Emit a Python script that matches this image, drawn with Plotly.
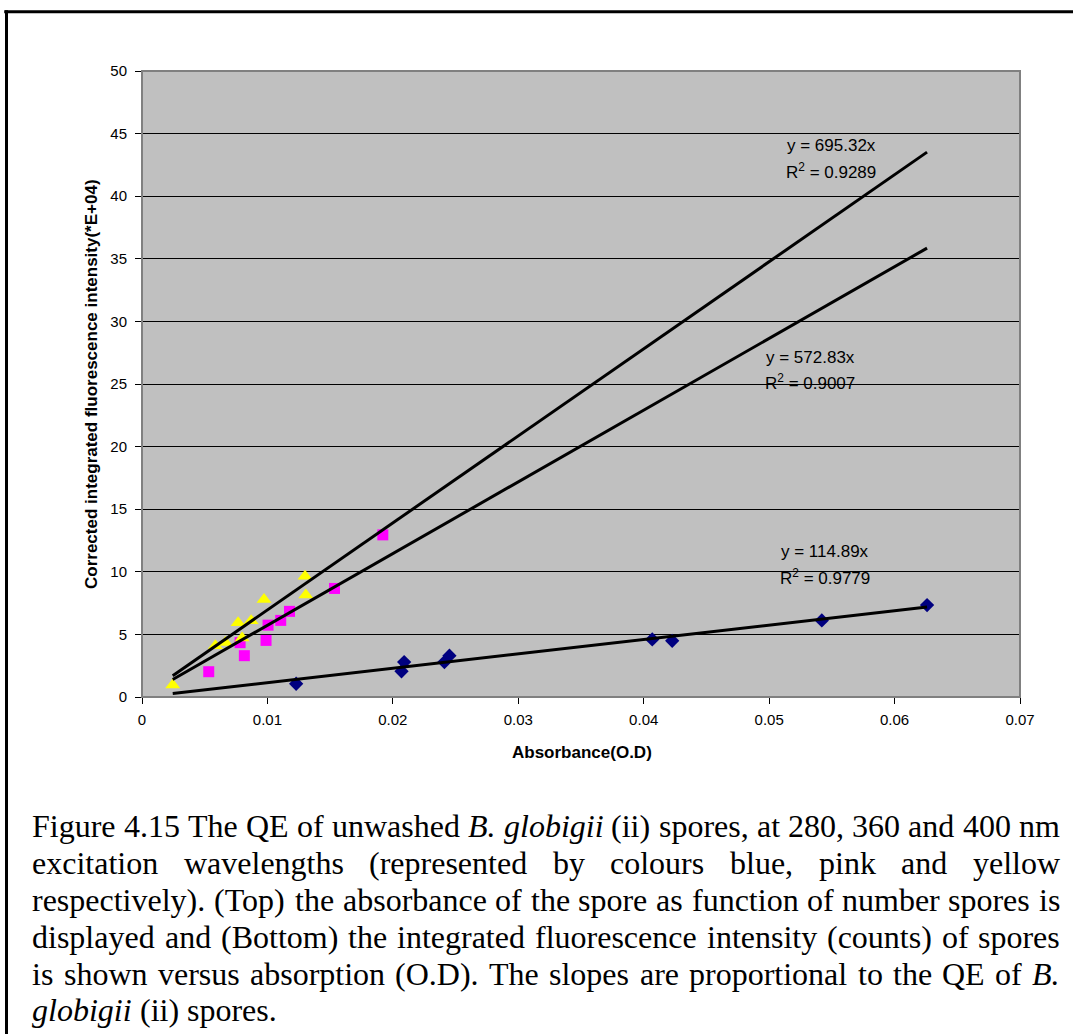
import plotly.graph_objects as go

# ---------------- data ----------------
blue_x = [0.01229, 0.02069, 0.02090, 0.02411, 0.02451, 0.04068, 0.04227, 0.05420, 0.06259]
blue_y = [1.06, 2.05, 2.79, 2.79, 3.30, 4.60, 4.49, 6.12, 7.34]

pink_x = [0.00532, 0.00782, 0.00816, 0.00989, 0.01005, 0.01106, 0.01176, 0.01535, 0.01920]
pink_y = [2.02, 4.34, 3.30, 4.52, 5.74, 6.12, 6.84, 8.67, 12.95]

yellow_x = [0.00245, 0.00585, 0.00665, 0.00766, 0.00870, 0.00798, 0.00973, 0.01300, 0.01306]
yellow_y = [0.96, 4.10, 4.36, 5.93, 6.09, 4.71, 7.79, 9.65, 8.14]

slopes = [114.89, 572.83, 695.32]
r2 = ["0.9779", "0.9007", "0.9289"]

x_title = "Absorbance(O.D)"
y_title = "Corrected integrated fluorescence intensity(*E+04)"

caption_lines = [
    [("Figure", 0), ("4.15", 0), ("The", 0), ("QE", 0), ("of", 0), ("unwashed", 0), ("B.", 1),
     ("globigii", 1), ("(ii)", 0), ("spores,", 0), ("at", 0), ("280,", 0), ("360", 0), ("and", 0),
     ("400", 0), ("nm", 0)],
    [("excitation", 0), ("wavelengths", 0), ("(represented", 0), ("by", 0), ("colours", 0),
     ("blue,", 0), ("pink", 0), ("and", 0), ("yellow", 0)],
    [("respectively).", 0), ("(Top)", 0), ("the", 0), ("absorbance", 0), ("of", 0), ("the", 0),
     ("spore", 0), ("as", 0), ("function", 0), ("of", 0), ("number", 0), ("spores", 0), ("is", 0)],
    [("displayed", 0), ("and", 0), ("(Bottom)", 0), ("the", 0), ("integrated", 0),
     ("fluorescence", 0), ("intensity", 0), ("(counts)", 0), ("of", 0), ("spores", 0)],
    [("is", 0), ("shown", 0), ("versus", 0), ("absorption", 0), ("(O.D).", 0), ("The", 0),
     ("slopes", 0), ("are", 0), ("proportional", 0), ("to", 0), ("the", 0), ("QE", 0), ("of", 0),
     ("B.", 1)],
    [("globigii", 1), ("(ii)", 0), ("spores.", 0)],
]

# ---------------- layout geometry ----------------
W, H = 1073, 1034
ML, MR, MT, MB = 142, 53, 71, 337
PW, PH = W - ML - MR, H - MT - MB


def px(xpix):
    return (xpix - ML) / PW


def py(ypix):
    return (H - MB - ypix) / PH


# Times-Roman / Times-Italic advance widths (per 1000 em)
ROMAN = dict(zip("ABCDEFGHIJKLMNOPQRSTUVWXYZ",
                 [722, 667, 667, 722, 611, 556, 722, 722, 333, 389, 722, 611, 889, 722, 722, 556,
                  722, 667, 556, 611, 722, 722, 944, 722, 722, 611]))
ROMAN.update(dict(zip("abcdefghijklmnopqrstuvwxyz",
                      [444, 500, 444, 500, 444, 333, 500, 500, 278, 278, 500, 278, 778, 500, 500,
                       500, 500, 333, 389, 278, 500, 500, 722, 500, 500, 444])))
ROMAN.update({c: 500 for c in "0123456789"})
ROMAN.update({" ": 250, "(": 333, ")": 333, ",": 250, ".": 250})
ITALIC = dict(ROMAN)
ITALIC.update({"B": 611, "a": 500, "f": 278, ".": 250})


def wwidth(word, italic, fs):
    tab = ITALIC if italic else ROMAN
    return sum(tab.get(c, 500) for c in word) * fs / 1000.0


CAP_FS = 32
CAP_LEFT, CAP_RIGHT = 31, 1059
CAP_BASE0, CAP_STEP = 836, 36.8

fig = go.Figure()

fig.add_trace(go.Scatter(x=blue_x, y=blue_y, mode="markers",
                         marker=dict(symbol="diamond", size=11, color="#000080"), showlegend=False))
fig.add_trace(go.Scatter(x=pink_x, y=pink_y, mode="markers",
                         marker=dict(symbol="square", size=11, color="#FF00FF"), showlegend=False))
fig.add_trace(go.Scatter(x=yellow_x, y=yellow_y, mode="markers",
                         marker=dict(symbol="triangle-up", size=13, color="#FFFF00"), showlegend=False))

all_x = blue_x + pink_x + yellow_x
x0, x1 = min(all_x), max(all_x)
for s in slopes:
    fig.add_trace(go.Scatter(x=[x0, x1], y=[s * x0, s * x1], mode="lines",
                             line=dict(color="black", width=3), showlegend=False, hoverinfo="skip"))

annotations = []
# trendline labels: (slope index, left pixel, eq y pixel, r2 y pixel)
label_pos = [(2, 785, 145, 171), (1, 764, 357, 382), (0, 779, 551, 577)]
for i, lx, ey, ry in label_pos:
    annotations.append(dict(text=f"y = {slopes[i]:.2f}x", x=px(lx), y=py(ey), xref="paper", yref="paper",
                            xanchor="left", yanchor="middle", showarrow=False,
                            font=dict(family="Liberation Sans, Arial", size=17, color="black")))
    annotations.append(dict(text=f"R<sup>2</sup> = {r2[i]}", x=px(lx - 1), y=py(ry), xref="paper", yref="paper",
                            xanchor="left", yanchor="middle", showarrow=False,
                            font=dict(family="Liberation Sans, Arial", size=17, color="black")))

annotations.append(dict(text=f"<b>{x_title}</b>", x=px(582), y=py(752), xref="paper", yref="paper",
                        xanchor="center", yanchor="middle", showarrow=False,
                        font=dict(family="Liberation Sans, Arial", size=17, color="black")))
annotations.append(dict(text=f"<b>{y_title}</b>", x=px(91), y=py(384), xref="paper", yref="paper",
                        xanchor="center", yanchor="middle", showarrow=False, textangle=-90,
                        font=dict(family="Liberation Sans, Arial", size=17, color="black")))

# caption, justified word by word
for li, words in enumerate(caption_lines):
    base = CAP_BASE0 + li * CAP_STEP
    ymid = base - 0.30 * CAP_FS
    widths = [wwidth(w, it, CAP_FS) for w, it in words]
    if li < len(caption_lines) - 1:
        gap = (CAP_RIGHT - CAP_LEFT - sum(widths)) / (len(words) - 1)
    else:
        gap = 250 * CAP_FS / 1000.0
    xcur = CAP_LEFT
    for (w, it), ww in zip(words, widths):
        txt = f"<i>{w}</i>" if it else w
        annotations.append(dict(text=txt, x=px(xcur), y=py(ymid), xref="paper", yref="paper",
                                xanchor="left", yanchor="middle", showarrow=False, borderpad=0,
                                font=dict(family="Liberation Serif, Times New Roman", size=CAP_FS,
                                          color="black")))
        xcur += ww + gap

shapes = [
    # plot area border (gray, top/right)
    dict(type="rect", xref="paper", yref="paper", x0=0, x1=1, y0=0, y1=1,
         line=dict(color="#808080", width=2), layer="above"),
    # page frame lines
    dict(type="line", xref="paper", yref="paper", x0=px(4.2), x1=px(W + 5), y0=py(11.7), y1=py(11.7),
         line=dict(color="black", width=3)),
    dict(type="line", xref="paper", yref="paper", x0=px(6.5), x1=px(6.5), y0=py(10.2), y1=py(H + 5),
         line=dict(color="black", width=3)),
]

axis_font = dict(family="Liberation Sans, Arial", size=15, color="black")
fig.update_layout(
    width=W, height=H,
    margin=dict(l=ML, r=MR, t=MT, b=MB, pad=0),
    paper_bgcolor="white", plot_bgcolor="#C0C0C0",
    showlegend=False,
    xaxis=dict(range=[0, 0.07], dtick=0.01, tick0=0, showgrid=False, zeroline=False,
               showline=True, linecolor="black", linewidth=1,
               ticks="outside", ticklen=6, tickcolor="black", tickfont=axis_font,
               ticklabelstandoff=3),
    yaxis=dict(range=[0, 50], dtick=5, tick0=0, showgrid=True, gridcolor="black", gridwidth=1,
               zeroline=False, showline=True, linecolor="black", linewidth=1,
               ticks="outside", ticklen=6, tickcolor="black", tickfont=axis_font,
               ticklabelstandoff=5),
    annotations=annotations,
    shapes=shapes,
)

fig.write_html("out.html", config={"displayModeBar": False},
               post_script="document.body.style.margin='0px';document.body.style.overflow='hidden';")
